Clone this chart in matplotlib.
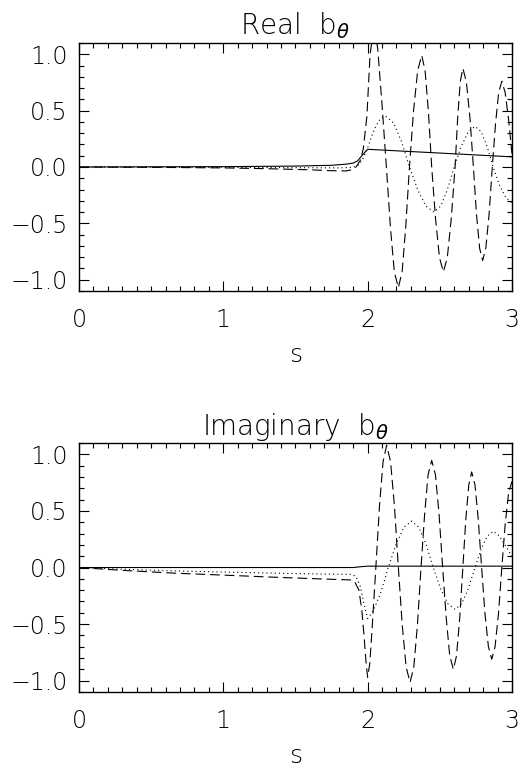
import matplotlib
matplotlib.use('Agg')
import matplotlib.pyplot as plt
from matplotlib.ticker import MultipleLocator

plt.rcParams['font.family'] = ['DejaVu Sans']
plt.rcParams['font.weight'] = 'light'
plt.rcParams['axes.titleweight'] = 'light'
plt.rcParams['axes.labelweight'] = 'light'
plt.rcParams['mathtext.fontset'] = 'custom'
plt.rcParams['mathtext.rm'] = 'DejaVu Sans:light'
plt.rcParams['mathtext.it'] = 'DejaVu Sans:italic:normal'
plt.rcParams['lines.scale_dashes'] = False

# Real part of b_theta along s
s_re_solid = [0.0, 1.0, 1.5, 1.75, 1.85, 1.9, 1.93, 1.96, 2.0, 3.0]
b_re_solid = [0.0, 0.003, 0.008, 0.015, 0.025, 0.035, 0.053, 0.1, 0.157, 0.09]

s_re_dash = [0.0, 0.5, 1.0, 1.3, 1.6, 1.75, 1.85, 1.89, 1.92, 1.95, 1.97, 1.995,
             2.017, 2.045, 2.07, 2.1, 2.13, 2.158, 2.185, 2.213, 2.239, 2.264,
             2.29, 2.318, 2.347, 2.375, 2.398, 2.421, 2.444, 2.471, 2.498, 2.525,
             2.552, 2.579, 2.606, 2.624, 2.642, 2.66, 2.684, 2.709, 2.733, 2.754,
             2.776, 2.797, 2.819, 2.842, 2.864, 2.886, 2.908, 2.93, 2.953, 2.977, 3.0]
b_re_dash = [0.0, -0.003, -0.008, -0.015, -0.025, -0.033, -0.035, -0.025, 0.0, 0.06, 0.16, 0.45,
             1.0, 1.25, 1.05, 0.55, 0.0, -0.535, -0.93, -1.07, -0.93, -0.535,
             0.0, 0.495, 0.857, 0.99, 0.857, 0.495, 0.0, -0.465, -0.805, -0.93,
             -0.805, -0.465, 0.0, 0.437, 0.758, 0.875, 0.758, 0.437, 0.0, -0.415,
             -0.72, -0.83, -0.72, -0.415, 0.0, 0.38, 0.66, 0.76, 0.66, 0.42, 0.12]

s_re_dot = [0.0, 1.0, 1.5, 1.8, 1.9, 1.94, 1.97, 2.0, 2.03, 2.06, 2.09, 2.125,
            2.18, 2.235, 2.29, 2.347, 2.403, 2.46, 2.507, 2.553, 2.6, 2.648,
            2.697, 2.745, 2.787, 2.828, 2.87, 2.913, 2.957, 3.0]
b_re_dot = [0.0, -0.003, -0.006, -0.008, -0.003, 0.02, 0.08, 0.17, 0.28, 0.37, 0.43, 0.45,
            0.39, 0.225, 0.0, -0.2, -0.346, -0.4, -0.346, -0.2, 0.0, 0.18,
            0.312, 0.36, 0.312, 0.18, 0.0, -0.16, -0.27, -0.32]

# Imaginary part of b_theta along s
s_im_solid = [0.0, 1.9, 1.96, 2.0, 3.0]
b_im_solid = [0.0, 0.0, 0.008, 0.012, 0.012]

s_im_dash = [0.0, 0.3, 0.665, 1.0, 1.36, 1.7, 1.89, 1.91, 1.94, 1.96, 1.975, 1.99,
             2.0, 2.015, 2.03, 2.045, 2.057, 2.082, 2.107, 2.132, 2.159, 2.186,
             2.213, 2.24, 2.267, 2.294, 2.32, 2.345, 2.37, 2.395, 2.419, 2.444,
             2.47, 2.495, 2.52, 2.545, 2.569, 2.594, 2.616, 2.638, 2.66, 2.68,
             2.701, 2.721, 2.744, 2.767, 2.79, 2.813, 2.837, 2.86, 2.883, 2.907,
             2.93, 2.953, 2.977, 3.0]
b_im_dash = [0.0, -0.025, -0.05, -0.067, -0.086, -0.102, -0.11, -0.125, -0.2, -0.38, -0.6, -0.85,
             -0.97, -0.85, -0.56, -0.25, 0.0, 0.54, 0.935, 1.08, 0.935, 0.54,
             0.0, -0.51, -0.88, -1.015, -0.88, -0.51, 0.0, 0.47, 0.82, 0.947,
             0.82, 0.47, 0.0, -0.45, -0.78, -0.9, -0.78, -0.45, 0.0, 0.42,
             0.73, 0.845, 0.73, 0.42, 0.0, -0.405, -0.7, -0.81, -0.7, -0.405,
             0.0, 0.38, 0.66, 0.76]

s_im_dot = [0.0, 0.3, 0.665, 1.0, 1.36, 1.7, 1.89, 1.92, 1.95, 1.975, 2.0, 2.03,
            2.06, 2.086, 2.115, 2.143, 2.197, 2.251, 2.305, 2.355, 2.405, 2.455,
            2.505, 2.556, 2.606, 2.652, 2.698, 2.744, 2.786, 2.829, 2.871, 2.914,
            2.957, 3.0]
b_im_dot = [0.0, -0.015, -0.03, -0.04, -0.05, -0.058, -0.06, -0.08, -0.17, -0.32, -0.45, -0.4,
            -0.32, -0.24, -0.12, 0.0, 0.205, 0.355, 0.41, 0.355, 0.205, 0.0,
            -0.185, -0.32, -0.37, -0.32, -0.185, 0.0, 0.16, 0.277, 0.32, 0.277,
            0.19, 0.1]

panels = [
    ('Real  b$_{\\theta}$', [0.1516, 0.6216, 0.831, 0.3225],
     (s_re_solid, b_re_solid), (s_re_dash, b_re_dash), (s_re_dot, b_re_dot)),
    ('Imaginary  b$_{\\theta}$', [0.1516, 0.1001, 0.831, 0.3238],
     (s_im_solid, b_im_solid), (s_im_dash, b_im_dash), (s_im_dot, b_im_dot)),
]

fig = plt.figure(figsize=(5.21, 7.69), dpi=100)

for title, rect, solid, dash, dot in panels:
    ax = fig.add_axes(rect)
    ax.plot(*solid, color='black', lw=0.8)
    ax.plot(*dash, color='black', lw=0.8, dashes=(7, 3.5))
    ax.plot(*dot, color='black', lw=0.8, dashes=(0.8, 2.2))

    ax.set_xlim(0, 3)
    ax.set_ylim(-1.1, 1.1)
    ax.xaxis.set_major_locator(MultipleLocator(1))
    ax.xaxis.set_minor_locator(MultipleLocator(0.1))
    ax.yaxis.set_major_locator(MultipleLocator(0.5))
    ax.yaxis.set_minor_locator(MultipleLocator(0.1))
    ax.xaxis.set_major_formatter(lambda v, p: '%d' % v)
    ax.yaxis.set_major_formatter(lambda v, p: ('%.1f' % v).replace('-', '\u2212'))
    ax.tick_params(which='both', direction='in', top=True, right=True, labelsize=17)
    ax.tick_params(which='major', length=7, width=0.8)
    ax.tick_params(which='minor', length=3.5, width=0.8)
    ax.tick_params(axis='x', pad=12)
    ax.tick_params(axis='y', pad=8)
    for sp in ax.spines.values():
        sp.set_linewidth(1.0)

    ax.set_title(title, fontsize=20, pad=6)
    ax.set_xlabel('s', fontsize=18, labelpad=8)

fig.savefig('out.png', dpi=100)
